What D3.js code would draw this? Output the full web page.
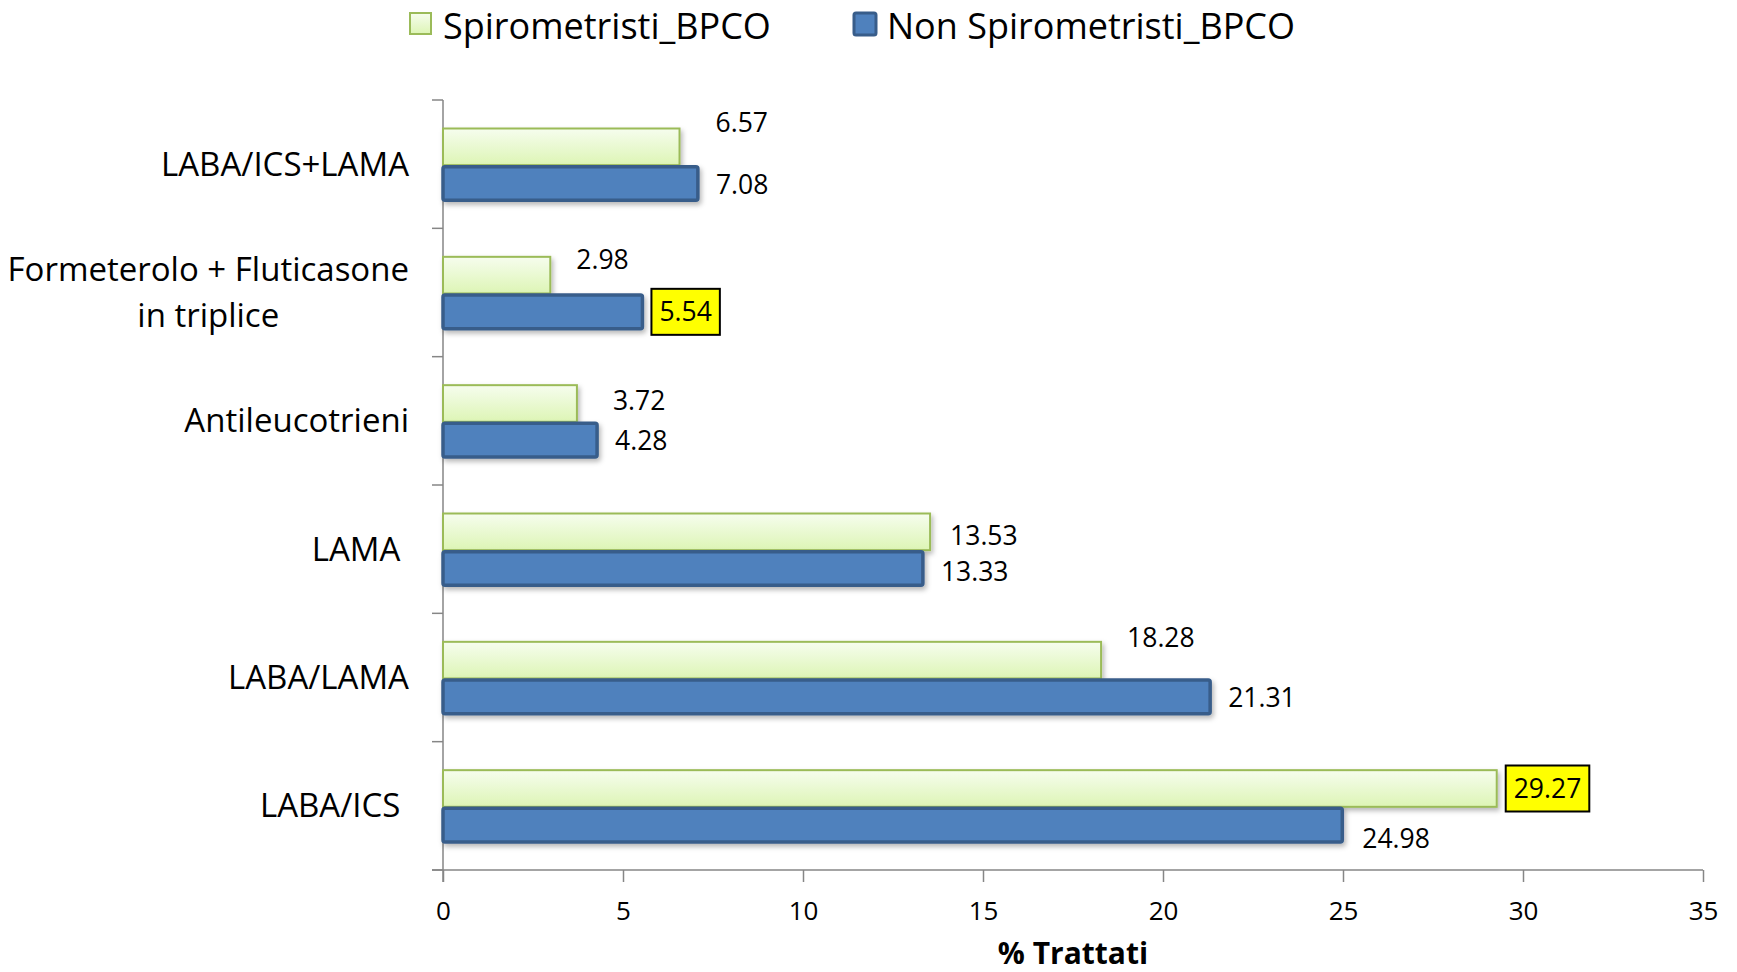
<!DOCTYPE html>
<html><head><meta charset="utf-8">
<script src="https://cdn.jsdelivr.net/npm/d3@7"></script>
<style>
html,body{margin:0;padding:0;background:#fff;}
svg{display:block;font-family:"Open Sans",Lato,sans-serif;}
</style></head>
<body>
<svg id="chart" width="1737" height="972"></svg>
<script>
const categories = ["LABA/ICS+LAMA", "Formeterolo + Fluticasone in triplice", "Antileucotrieni", "LAMA", "LABA/LAMA", "LABA/ICS"];
const categoryLines = [["LABA/ICS+LAMA"], ["Formeterolo + Fluticasone", "in triplice"], ["Antileucotrieni"], ["LAMA\u00a0"], ["LABA/LAMA"], ["LABA/ICS\u00a0"]];
const seriesNames = ["Spirometristi_BPCO", "Non Spirometristi_BPCO"];
const spirometristi = [6.57, 2.98, 3.72, 13.53, 18.28, 29.27];
const nonSpirometristi = [7.08, 5.54, 4.28, 13.33, 21.31, 24.98];
const xTicks = [0, 5, 10, 15, 20, 25, 30, 35];
const xTitle = "% Trattati";
// highlighted labels (yellow boxes)
const highlightSpiro = [false, false, false, false, false, true];
const highlightNon = [false, true, false, false, false, false];
// label nudges (layout only): [dx, dy] in px relative to default
const nudgeSpiro = [[18,-24],[8,-15],[18,-3],[2,4],[8,-22],[0,0]];
const nudgeNon = [[0,1],[0,0],[0,1],[0,3],[0,1],[2,14]];

const svg = d3.select("#chart");
const m = {left: 443, right: 1703, top: 100, bottom: 870};

const x = d3.scaleLinear().domain([0, 35]).range([m.left, m.right]);
const y = d3.scaleBand().domain(categories).range([m.top, m.bottom]).paddingInner(0).paddingOuter(0);
const y1 = d3.scaleBand().domain(seriesNames).range([28.5, y.bandwidth() - 26.5]).padding(0);

const defs = svg.append("defs");
const gg = defs.append("linearGradient").attr("id","gGreen").attr("x1",0).attr("y1",0).attr("x2",0).attr("y2",1);
gg.append("stop").attr("offset","0%").attr("stop-color","#f6fdee");
gg.append("stop").attr("offset","100%").attr("stop-color","#ddf5b5");
const f = defs.append("filter").attr("id","sh").attr("x","-5%").attr("y","-30%").attr("width","115%").attr("height","180%");
f.append("feDropShadow").attr("dx",2).attr("dy",3).attr("stdDeviation",2.5).attr("flood-color","#000").attr("flood-opacity",0.28);

// axes
const gx = svg.append("g").attr("transform", `translate(0,${m.bottom})`)
  .call(d3.axisBottom(x).tickValues(xTicks).tickSize(12).tickSizeOuter(0).tickPadding(20));
gx.select(".domain").attr("stroke","#868686").attr("stroke-width",1.5).attr("d", `M${m.left-11},0H${m.right}`);
gx.selectAll(".tick line").attr("stroke","#868686").attr("stroke-width",1.5);
gx.selectAll(".tick text").attr("font-size",26).attr("fill","#000").attr("font-family","'Open Sans',sans-serif");

const boundaries = categories.map(c => y(c)).concat([m.bottom]);
svg.append("line").attr("x1",m.left).attr("x2",m.left).attr("y1",m.top).attr("y2",m.bottom+12)
  .attr("stroke","#868686").attr("stroke-width",1.5);
svg.selectAll(".ytick").data(boundaries).join("line")
  .attr("x1",m.left-11).attr("x2",m.left).attr("y1",d=>d).attr("y2",d=>d)
  .attr("stroke","#868686").attr("stroke-width",1.5);

// bars
const rows = categories.map((c,i)=>({c,i,vals:[spirometristi[i], nonSpirometristi[i]]}));
const g = svg.append("g");
rows.forEach(r => {
  g.append("rect").attr("x", x(0)).attr("y", y(r.c)+y1(seriesNames[0]))
    .attr("width", x(r.vals[0])-x(0)).attr("height", y1.bandwidth())
    .attr("fill","url(#gGreen)").attr("stroke","#9bbb59").attr("stroke-width",2)
    .attr("filter","url(#sh)");
});
rows.forEach(r => {
  g.append("rect").attr("x", x(0)).attr("y", y(r.c)+y1(seriesNames[1])+1.5)
    .attr("width", x(r.vals[1])-x(0)).attr("height", y1.bandwidth()-3)
    .attr("rx",2)
    .attr("fill","#4f81bd").attr("stroke","#385d8a").attr("stroke-width",3.5)
    .attr("filter","url(#sh)");
});

// value labels
const lg = svg.append("g");
function label(v, i, s, hl, nudge){
  const bx = x(v) + (hl ? 9 : 18) + nudge[0];
  const by = y(categories[i]) + y1(seriesNames[s]) + y1.bandwidth()/2 + nudge[1];
  const box = hl ? lg.append("rect") : null;
  const t = lg.append("text").attr("x", bx + (hl?8:0)).attr("y", by).attr("dy","0.35em")
    .attr("font-size",26.5).attr("fill","#000").text(v.toFixed(2));
  if (hl){
    const w = t.node().getComputedTextLength();
    box.attr("x", bx).attr("y", by-23)
      .attr("width", w+16).attr("height", 46)
      .attr("fill","#ffff00").attr("stroke","#000").attr("stroke-width",2);
  }
}
spirometristi.forEach((v,i)=>label(v,i,0,highlightSpiro[i],nudgeSpiro[i]));
nonSpirometristi.forEach((v,i)=>label(v,i,1,highlightNon[i],nudgeNon[i]));

// category labels
const labelRight = 409;
const catFont = 33;
categories.forEach((c,i) => {
  const lines = categoryLines[i];
  const cy = y(c) + y.bandwidth()/2;
  if (lines.length === 1){
    svg.append("text").attr("x",labelRight).attr("y",cy).attr("dy","0.35em")
      .attr("text-anchor","end").attr("font-size",catFont).attr("fill","#000")
      .text(lines[0]);
  } else {
    const tmp = svg.append("text").attr("font-size",catFont).text(lines[0]);
    const w = tmp.node().getComputedTextLength(); tmp.remove();
    const cx = labelRight - w/2;
    lines.forEach((ln,k)=>{
      svg.append("text").attr("x",cx).attr("y",cy + (k - (lines.length-1)/2)*46).attr("dy","0.35em")
        .attr("text-anchor","middle").attr("font-size",catFont).attr("fill","#000").text(ln);
    });
  }
});

// axis title
svg.append("text").attr("x",(m.left+m.right)/2).attr("y",953).attr("dy","0.35em")
  .attr("text-anchor","middle").attr("font-size",30).attr("font-weight","bold").attr("fill","#000").text(xTitle);

// legend
const legend = [{name:seriesNames[0], x:410}, {name:seriesNames[1], x:854}];
legend.forEach((l,k)=>{
  if (k===0){
    svg.append("rect").attr("x",l.x).attr("y",13).attr("width",21).attr("height",21)
      .attr("fill","url(#gGreen)").attr("stroke","#9bbb59").attr("stroke-width",2);
  } else {
    svg.append("rect").attr("x",l.x).attr("y",13).attr("width",22).attr("height",22).attr("rx",2)
      .attr("fill","#4f81bd").attr("stroke","#385d8a").attr("stroke-width",3);
  }
  svg.append("text").attr("x",l.x+33).attr("y",26).attr("dy","0.35em")
    .attr("font-size",36).attr("fill","#000").text(l.name);
});
</script>
</body></html>
